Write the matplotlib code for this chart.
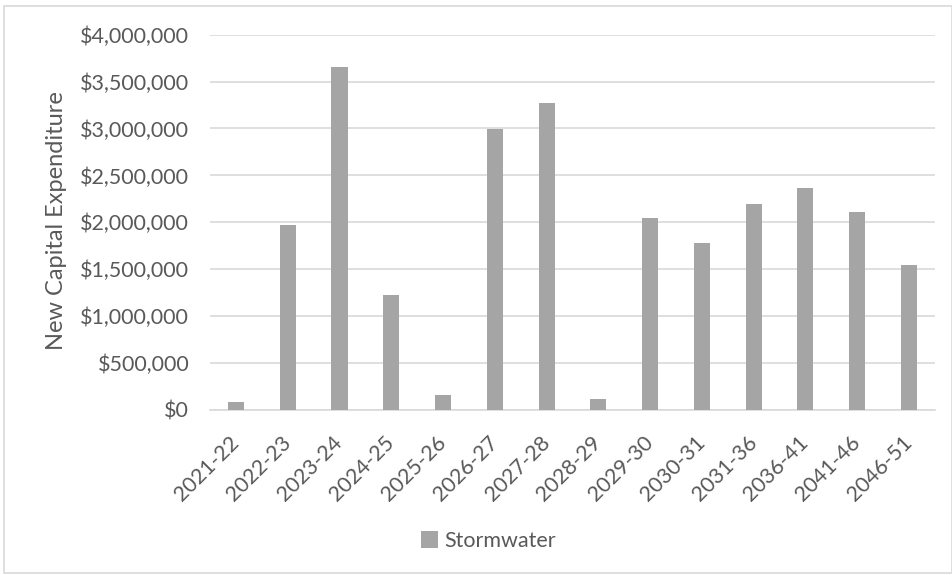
import matplotlib.pyplot as plt
from matplotlib.patches import Rectangle
from matplotlib.ticker import FuncFormatter, MultipleLocator

periods = ['2021-22', '2022-23', '2023-24', '2024-25', '2025-26', '2026-27', '2027-28',
           '2028-29', '2029-30', '2030-31', '2031-36', '2036-41', '2041-46', '2046-51']
stormwater = [82000, 1975000, 3656000, 1229000, 160000, 2992000, 3272000,
              121000, 2050000, 1780000, 2196000, 2363000, 2107000, 1542000]

plt.rcParams['font.family'] = ['Lato', 'DejaVu Sans']
txt = '#595959'
grid = '#D9D9D9'

fig = plt.figure(figsize=(9.53, 5.75), dpi=100)
ax = fig.add_axes([0.2204, 0.287, 0.7606, 0.6527])

x = range(len(periods))
ax.bar(x, stormwater, width=0.31, color='#A5A5A5', label='Stormwater', zorder=3)

ax.set_xlim(-0.5, len(periods) - 0.5)
ax.set_ylim(0, 4000000)
ax.yaxis.set_major_locator(MultipleLocator(500000))
ax.yaxis.set_major_formatter(FuncFormatter(lambda v, p: '${:,.0f}'.format(v)))
ax.grid(axis='y', color=grid, linewidth=1.2, zorder=0)
for s in ['top', 'right', 'left']:
    ax.spines[s].set_visible(False)
ax.spines['bottom'].set_color(grid)
ax.spines['bottom'].set_linewidth(1.2)
ax.tick_params(length=0, labelsize=15.5, colors=txt)
ax.tick_params(axis='y', pad=15)
ax.tick_params(axis='x', pad=21)
ax.set_xticks(list(x))
ax.set_xticklabels(periods, rotation=45, ha='right', va='center', rotation_mode='anchor')
ax.set_ylabel('New Capital Expenditure', fontsize=17, color=txt)
ax.yaxis.label.set(va='center', ha='center')
ax.yaxis.set_label_coords(-0.212, 0.506)

leg = fig.legend(loc='center', bbox_to_anchor=(0.5126, 0.059), frameon=False,
                 fontsize=15.5, handlelength=0.8, handleheight=0.8, handletextpad=0.3)
for t in leg.get_texts():
    t.set_color(txt)

# thin chart border
fig.patches.append(Rectangle((4 / 953, 2 / 575), 948 / 953, 567 / 575, transform=fig.transFigure,
                             fill=False, edgecolor=grid, linewidth=1.2))

fig.savefig('out.png', dpi=100)
